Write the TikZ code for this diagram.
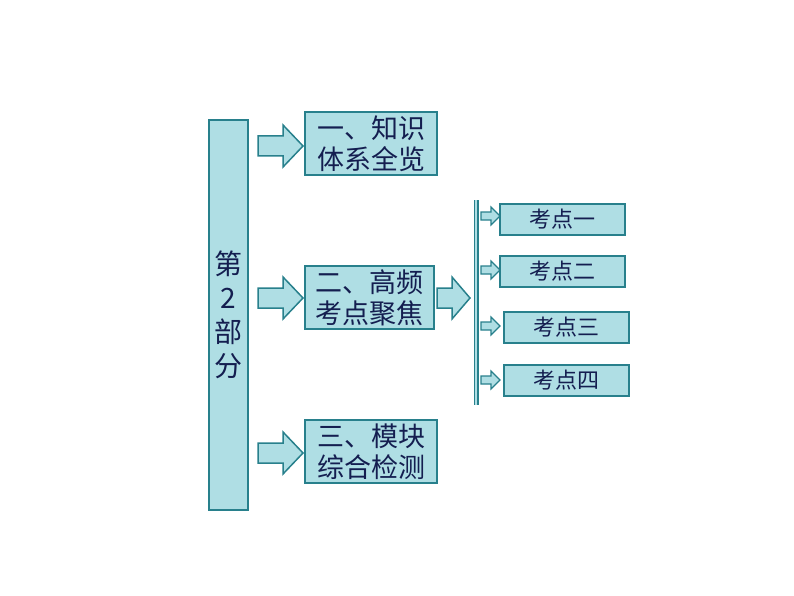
\documentclass[tikz,border=0pt]{standalone}
\usepackage{fontspec}
\newfontfamily\cjk{Noto Sans CJK SC}
\usetikzlibrary{calc}
\definecolor{fillc}{RGB}{175,222,228}
\definecolor{edgec}{RGB}{40,128,140}
\definecolor{txt}{RGB}{20,30,80}
\begin{document}
\begin{tikzpicture}[x=1pt,y=-1pt,
  boxs/.style={draw=edgec,line width=2pt,fill=fillc,text=txt,font=\cjk\fontsize{27}{31}\selectfont,inner sep=0pt,align=center},
  arrline/.style={draw=edgec,line width=1.5pt,fill=fillc,line join=miter}]
\newcommand{\bigarr}[2]{\draw[arrline] ($(#1)+(0,-10)$) -- ++(25,0) -- ++(0,-11) -- ++(20,21) -- ++(-20,21) -- ++(0,-11) -- ++(-25,0) -- cycle;}
\newcommand{\smarr}[1]{\draw[arrline,line width=1.2pt] ($(#1)+(0,-4)$) -- ++(10,0) -- ++(0,-5) -- ++(9,9) -- ++(-9,9) -- ++(0,-5) -- ++(-10,0) -- cycle;}
\useasboundingbox (0,0) rectangle (794,596);
\node[boxs,minimum width=39pt,minimum height=390pt,font=\cjk\fontsize{28}{34}\selectfont] (main) at (228.5,315) {第\\2\\部\\分};
\node[boxs,minimum width=132pt,minimum height=63pt] (b1) at (371,143.5) {一、知识\\体系全览};
\node[boxs,minimum width=129pt,minimum height=63pt] (b2) at (369.5,297.5) {二、高频\\考点聚焦};
\node[boxs,minimum width=132pt,minimum height=63pt] (b3) at (371,451.5) {三、模块\\综合检测};
\coordinate (c1) at (258,146); \bigarr{c1}{}
\coordinate (c2) at (258,298); \bigarr{c2}{}
\coordinate (c3) at (258,453); \bigarr{c3}{}
\coordinate (c4) at (437,298);
\draw[arrline] ($(c4)+(0,-10)$) -- ++(15,0) -- ++(0,-11) -- ++(18,21) -- ++(-18,21) -- ++(0,-11) -- ++(-15,0) -- cycle;
\draw[edgec,line width=1.5pt,double=fillc,double distance=2pt] (476,200) coordinate (bt) -- (476,405) coordinate (bb);
\tikzset{sb/.style={boxs,font=\cjk\fontsize{22}{26}\selectfont,minimum width=125pt,minimum height=31pt}}
\node[sb] (k1) at (562.5,219.5) {考点一};
\node[sb] (k2) at (562.5,271.5) {考点二};
\node[sb] (k3) at (566.5,327.5) {考点三};
\node[sb] (k4) at (566.5,380.5) {考点四};
\coordinate (s1) at (481,216); \smarr{s1}
\coordinate (s2) at (481,270); \smarr{s2}
\coordinate (s3) at (481,326); \smarr{s3}
\coordinate (s4) at (481,380); \smarr{s4}
\end{tikzpicture}
\end{document}
